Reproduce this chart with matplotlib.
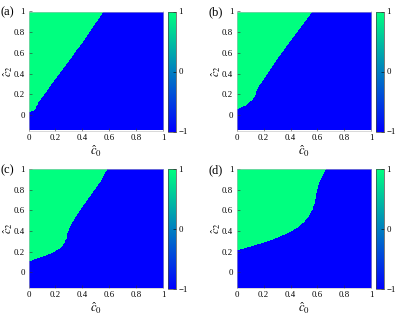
import numpy as np
import matplotlib
matplotlib.use("Agg")
import matplotlib.pyplot as plt

plt.rcParams['font.family'] = ['Liberation Serif', 'DejaVu Serif']
plt.rcParams['mathtext.fontset'] = 'stix'

# boundary between the two regions, (c0, c2) points
panel_labels = ["(a)", "(b)", "(c)", "(d)"]
bound_c0 = [
    [0.0, 0.03, 0.045, 0.07, 0.17, 0.28, 0.42, 0.555],
    [0.0, 0.062, 0.099, 0.123, 0.136, 0.143, 0.173, 0.30, 0.43, 0.563],
    [0.0, 0.085, 0.17, 0.23, 0.26, 0.28, 0.286, 0.31, 0.37, 0.44, 0.53, 0.58],
    [0.0, 0.1, 0.2, 0.3, 0.4, 0.45, 0.5, 0.535, 0.56, 0.575, 0.585, 0.595,
     0.61, 0.635, 0.66],
]
bound_c2 = [
    [0.026, 0.032, 0.051, 0.115, 0.297, 0.49, 0.74, 1.0],
    [0.052, 0.085, 0.123, 0.155, 0.181, 0.229, 0.293, 0.54, 0.77, 1.0],
    [0.106, 0.146, 0.185, 0.235, 0.28, 0.336, 0.384, 0.464, 0.585, 0.715, 0.88, 1.0],
    [0.216, 0.25, 0.29, 0.335, 0.395, 0.435, 0.49, 0.55, 0.61, 0.67, 0.74, 0.80,
     0.87, 0.94, 1.0],
]
x_ticks = [0, 0.2, 0.4, 0.6, 0.8, 1]
y_ticks = [0, 0.2, 0.4, 0.6, 0.8, 1]
cbar_ticks = [-1, 0, 1]

W, H = 399, 316
fig = plt.figure(figsize=(W / 100, H / 100), dpi=100)

c0 = np.linspace(0, 1, 600)
c2 = np.linspace(-0.15, 1, 600)
C0, C2 = np.meshgrid(c0, c2)

lefts = [28.5, 236.7]
tops = [11.5, 169.0]
aw, ah = 134.5, 119.0
ylab_x = [8.0, 216.5]

for i in range(4):
    r, c = divmod(i, 2)
    x0 = lefts[c]
    y0 = tops[r]
    ax = fig.add_axes([x0 / W, 1 - (y0 + ah) / H, aw / W, ah / H])
    edge = np.interp(C0, bound_c0[i], bound_c2[i], right=5.0)
    Z = np.where(C2 > edge, 1.0, -1.0)
    im = ax.imshow(Z, origin='lower', extent=[0, 1, -0.15, 1], aspect='auto',
                   cmap='winter', vmin=-1, vmax=1, interpolation='nearest')
    ax.set_xlim(0, 1)
    ax.set_ylim(-0.15, 1)
    ax.set_xticks(x_ticks)
    ax.set_yticks(y_ticks)
    ax.set_xticklabels([f"{t:g}" for t in x_ticks])
    ax.set_yticklabels([f"{t:g}" for t in y_ticks])
    ax.tick_params(labelsize=6.3, direction='in', length=2, width=0.4, pad=2.5,
                   colors='#333333', labelcolor='black')
    for s in ax.spines.values():
        s.set_linewidth(0.4)
        s.set_color('#bbbbbb')
    ax.set_xlabel(r"$\hat{c}_0$", fontsize=9, labelpad=1)
    ax.yaxis.set_label_coords((ylab_x[c] - x0) / aw, 0.5)
    ax.set_ylabel(r"$\hat{c}_2$", fontsize=8.5, ha='center', va='center')

    cax = fig.add_axes([(x0 + aw + 5) / W, 1 - (y0 + ah + 1) / H, 7.5 / W, (ah + 1) / H])
    cb = fig.colorbar(im, cax=cax, ticks=cbar_ticks)
    cb.ax.set_yticklabels(["\u22121", "0", "1"])
    cb.ax.tick_params(labelsize=6.3, direction='in', length=2, width=0.4, pad=2)
    cb.outline.set_linewidth(0.5)
    cb.outline.set_edgecolor('#444444')

    fig.text((x0 - 28) / W, 1 - (y0 + 1) / H, panel_labels[i], fontsize=9,
             ha='left', va='center')

fig.savefig("out.png", dpi=100)
